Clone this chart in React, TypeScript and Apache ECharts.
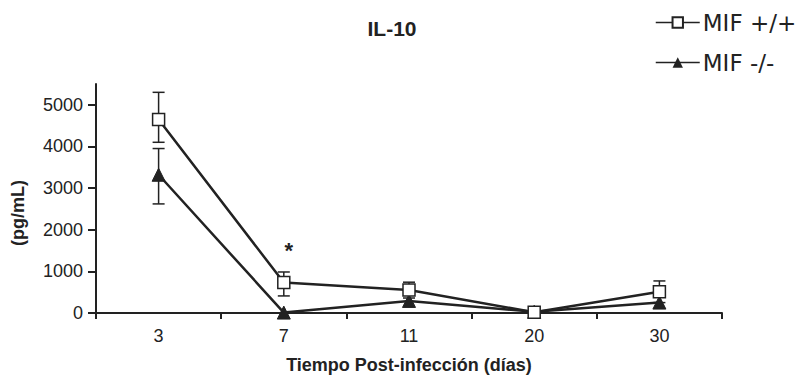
import React, { useEffect, useRef } from "react";
import * as echarts from "echarts";

const days = ["3", "7", "11", "20", "30"];
const plusMean = [4650, 730, 550, 20, 510];
const plusLow = [4100, 410, 360, 20, 250];
const plusHigh = [5300, 985, 740, 20, 770];
const minusMean = [3320, 10, 290, 30, 250];
const minusLow = [2620, 10, 290, 30, 250];
const minusHigh = [3950, 10, 290, 30, 250];
const yTicks = [0, 1000, 2000, 3000, 4000, 5000];

const INK = "#222";
const FONT = "Arial";

function errorSeries(low: number[], high: number[]) {
  return {
    type: "custom",
    z: 1,
    silent: true,
    data: low.map((l, i) => [i, l, high[i]]),
    renderItem: (params: any, api: any) => {
      const lo = api.value(1);
      const hi = api.value(2);
      if (hi - lo <= 0) return null;
      const p1 = api.coord([api.value(0), lo]);
      const p2 = api.coord([api.value(0), hi]);
      const w = 6;
      const style = { stroke: INK, lineWidth: 1.5 };
      return {
        type: "group",
        children: [
          { type: "line", shape: { x1: p1[0], y1: p1[1], x2: p2[0], y2: p2[1] }, style },
          { type: "line", shape: { x1: p1[0] - w, y1: p1[1], x2: p1[0] + w, y2: p1[1] }, style },
          { type: "line", shape: { x1: p2[0] - w, y1: p2[1], x2: p2[0] + w, y2: p2[1] }, style },
        ],
      };
    },
  };
}

export default function App() {
  const ref = useRef<HTMLDivElement>(null);
  useEffect(() => {
    if (!ref.current) return;
    const chart = echarts.init(ref.current, undefined, { renderer: "svg" });
    chart.setOption({
      animation: false,
      backgroundColor: "#fff",
      textStyle: { fontFamily: FONT, color: INK },
      grid: { left: 96, right: 78, top: 84, bottom: 69, containLabel: false },
      legend: {
        orient: "vertical",
        left: 650,
        top: 6,
        itemWidth: 44,
        itemHeight: 13,
        itemGap: 17,
        data: ["MIF +/+", "MIF -/-"],
        textStyle: { fontFamily: "DejaVu Sans", fontSize: 23, color: INK, padding: [0, 0, 0, -2] },
        lineStyle: { width: 1.5 },
      },
      graphic: [
        {
          type: "text",
          x: 392,
          y: 28,
          style: {
            text: "IL-10",
            font: `bold 21px ${FONT}`,
            fill: INK,
            align: "center",
            verticalAlign: "middle",
          },
        },
        {
          type: "text",
          x: 18,
          y: 213,
          rotation: Math.PI / 2,
          style: {
            text: "(pg/mL)",
            font: `bold 18px ${FONT}`,
            fill: INK,
            align: "center",
            verticalAlign: "middle",
          },
        },
      ],
      xAxis: {
        type: "category",
        data: days,
        boundaryGap: true,
        name: "Tiempo Post-infección (días)",
        nameLocation: "middle",
        nameGap: 43,
        nameTextStyle: { fontFamily: FONT, fontWeight: "bold", fontSize: 18, color: INK },
        axisLine: { lineStyle: { color: INK, width: 2 } },
        axisTick: { show: true, length: 6, lineStyle: { color: INK, width: 2 } },
        axisLabel: { fontSize: 18, color: INK, margin: 14, fontFamily: FONT },
        splitLine: { show: false },
      },
      yAxis: {
        type: "value",
        min: 0,
        max: 5500,
        interval: 1000,
        axisLine: { show: true, lineStyle: { color: INK, width: 2 } },
        axisTick: { show: true, length: 8, customValues: yTicks, lineStyle: { color: INK, width: 2 } },
        axisLabel: {
          fontSize: 18,
          color: INK,
          margin: 13,
          customValues: yTicks,
          fontFamily: FONT,
          formatter: (v: number) => String(v),
        },
        splitLine: { show: false },
      },
      series: [
        errorSeries(plusLow, plusHigh),
        errorSeries(minusLow, minusHigh),
        {
          name: "MIF +/+",
          type: "line",
          z: 3,
          data: plusMean,
          symbol: "rect",
          symbolSize: 12,
          itemStyle: { color: "#fff", borderColor: INK, borderWidth: 1.5 },
          lineStyle: { color: INK, width: 2.5 },
          markPoint: {
            symbol: "circle",
            symbolSize: 1,
            itemStyle: { color: "rgba(0,0,0,0)" },
            label: {
              show: true,
              formatter: "*",
              fontSize: 22,
              fontWeight: "bold",
              fontFamily: FONT,
              color: INK,
              position: "inside",
              offset: [5, 4],
            },
            data: [{ coord: ["7", 1600] }],
          },
        },
        {
          name: "MIF -/-",
          type: "line",
          z: 2,
          data: minusMean,
          symbol: "triangle",
          symbolSize: 13,
          itemStyle: { color: INK, borderColor: INK },
          lineStyle: { color: INK, width: 2.5 },
        },
      ],
    });
    return () => chart.dispose();
  }, []);
  return <div ref={ref} style={{ width: 800, height: 382, position: "absolute", left: 0, top: 0 }} />;
}
